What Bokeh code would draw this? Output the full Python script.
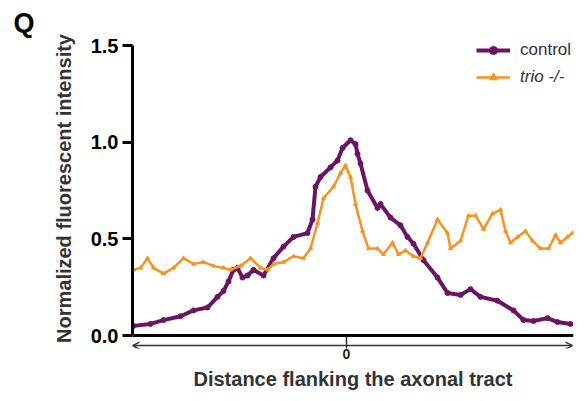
from bokeh.plotting import figure
from bokeh.models import (Range1d, FixedTicker, Legend, LegendItem, Arrow, OpenHead, Span,
                          PrintfTickFormatter)
from bokeh.embed import file_html
from bokeh.resources import INLINE

# distance from the axonal tract centre (arbitrary units), normalized intensity
control_x = [-213, -196, -183, -166, -153, -139, -129, -123, -118, -113, -109, -104, -99, -93,
             -83, -73, -63, -53, -39, -34, -31, -26, -16, -9, -4, 4, 9, 11, 14, 21, 31, 34, 44,
             54, 61, 67, 77, 91, 101, 114, 124, 134, 151, 167, 177, 187, 201, 211, 224]
control_y = [0.05, 0.06, 0.08, 0.10, 0.13, 0.145, 0.20, 0.23, 0.28, 0.34, 0.35, 0.30, 0.31, 0.34,
             0.31, 0.40, 0.46, 0.51, 0.53, 0.60, 0.77, 0.82, 0.87, 0.905, 0.97, 1.01, 0.99, 0.94,
             0.89, 0.75, 0.66, 0.68, 0.61, 0.57, 0.51, 0.475, 0.39, 0.30, 0.22, 0.21, 0.24, 0.20,
             0.18, 0.13, 0.08, 0.075, 0.09, 0.07, 0.06]

trio_x = [-213, -206, -199, -193, -183, -173, -163, -153, -143, -133, -123, -116, -106, -96,
          -86, -79, -73, -63, -53, -43, -36, -29, -23, -13, -6, -1, 4, 9, 16, 22, 31, 37, 46,
          52, 59, 67, 74, 81, 91, 101, 104, 114, 122, 129, 137, 146, 154, 159, 164, 171, 179,
          186, 194, 202, 209, 214, 221, 226]
trio_y = [0.34, 0.35, 0.40, 0.35, 0.32, 0.35, 0.40, 0.37, 0.38, 0.36, 0.35, 0.34, 0.36, 0.40,
          0.35, 0.34, 0.37, 0.38, 0.41, 0.40, 0.45, 0.58, 0.71, 0.77, 0.84, 0.88, 0.82, 0.68,
          0.54, 0.45, 0.45, 0.42, 0.48, 0.42, 0.44, 0.41, 0.40, 0.48, 0.60, 0.53, 0.45, 0.49,
          0.62, 0.62, 0.55, 0.63, 0.65, 0.54, 0.48, 0.51, 0.54, 0.49, 0.45, 0.45, 0.52, 0.48,
          0.51, 0.53]

y_ticks = [0.0, 0.5, 1.0, 1.5]
x_ticks = [0]

PURPLE = "#6B1461"
ORANGE = "#F7931E"
FONT = "Liberation Sans"

p = figure(width=580, height=393, output_backend="svg", toolbar_location=None,
           x_range=Range1d(-214, 227), y_range=Range1d(-0.067, 1.588),
           min_border_left=132, min_border_right=7, min_border_top=28, min_border_bottom=45)
p.outline_line_color = None
p.grid.visible = False
p.background_fill_color = "white"
p.border_fill_color = "white"

# panel letter
p.title.text = "Q"
p.title.align = "left"
p.title.offset = -119
p.title.standoff = -19
p.title.text_font = FONT
p.title.text_font_style = "bold"
p.title.text_font_size = "27px"
p.title.text_color = "black"

# x axis line at zero and the double-headed arrow below it
p.add_layout(Span(location=0, dimension="width", line_color="black", line_width=3))
p.add_layout(Arrow(start=OpenHead(size=7, line_width=1.5, line_color="#333333"),
                   end=OpenHead(size=7, line_width=1.5, line_color="#333333"),
                   x_start=-214, y_start=-0.052, x_end=226, y_end=-0.052,
                   line_width=1.5, line_color="#333333"))

# series
l1 = p.line(control_x, control_y, line_color=PURPLE, line_width=4)
s1 = p.scatter(control_x, control_y, size=5, color=PURPLE)
l2 = p.line(trio_x, trio_y, line_color=ORANGE, line_width=2.5)
s2 = p.scatter(trio_x, trio_y, size=4, marker="triangle", color=ORANGE)

# y axis
ya = p.yaxis[0]
ya.ticker = FixedTicker(ticks=y_ticks)
ya.formatter = PrintfTickFormatter(format="%.1f")
ya.bounds = (0, 1.5)
ya.minor_tick_line_color = None
ya.axis_line_width = 3
ya.axis_line_color = "black"
ya.major_tick_line_width = 3
ya.major_tick_out = 10
ya.major_tick_in = 0
ya.major_label_standoff = 4
ya.major_label_text_font = FONT
ya.major_label_text_font_style = "bold"
ya.major_label_text_font_size = "20px"
ya.major_label_text_color = "black"
ya.axis_label = "Normalized fluorescent intensity"
ya.axis_label_text_font = FONT
ya.axis_label_text_font_style = "bold"
ya.axis_label_text_font_size = "20px"
ya.axis_label_text_color = "#333333"
ya.axis_label_standoff = 13

# x axis (labels only; its line is the span at zero)
xa = p.xaxis[0]
xa.ticker = FixedTicker(ticks=x_ticks)
xa.minor_tick_line_color = None
xa.axis_line_color = None
xa.major_tick_line_width = 1.5
xa.major_tick_line_color = "#333333"
xa.major_tick_out = 0
xa.major_tick_in = 12
xa.major_label_standoff = 0
xa.major_label_text_font = FONT
xa.major_label_text_font_style = "bold"
xa.major_label_text_font_size = "14px"
xa.major_label_text_color = "#222222"
xa.axis_label = "Distance flanking the axonal tract"
xa.axis_label_text_font = FONT
xa.axis_label_text_font_style = "bold"
xa.axis_label_text_font_size = "20px"
xa.axis_label_text_color = "#333333"
xa.axis_label_standoff = 6

# legends
leg1 = Legend(items=[LegendItem(label="control", renderers=[l1, s1])],
              location=(344, 288), glyph_width=34, label_standoff=10,
              label_text_font=FONT, label_text_font_size="17px", label_text_color="#333333",
              padding=0, margin=0, border_line_alpha=0, background_fill_alpha=0)
leg2 = Legend(items=[LegendItem(label="trio -/-", renderers=[l2, s2])],
              location=(344, 261), glyph_width=34, label_standoff=10,
              label_text_font=FONT, label_text_font_size="17px", label_text_color="#333333",
              label_text_font_style="italic",
              padding=0, margin=0, border_line_alpha=0, background_fill_alpha=0)
p.add_layout(leg1)
p.add_layout(leg2)

open("out.html", "w").write(file_html(p, INLINE))
